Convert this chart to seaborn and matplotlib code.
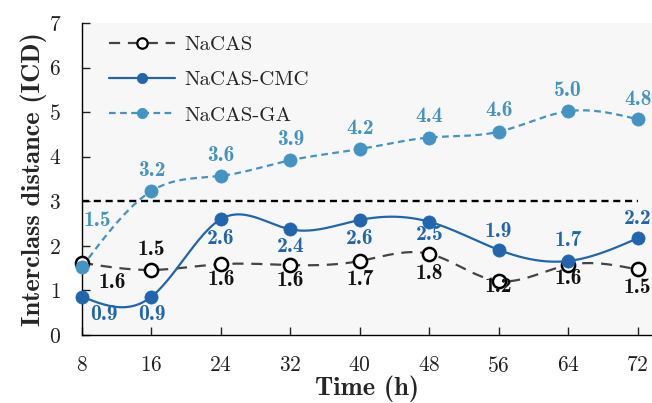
import numpy as np
import pandas as pd
import matplotlib
matplotlib.use("Agg")
import matplotlib.pyplot as plt
from matplotlib.lines import Line2D
import seaborn as sns

# Sampling times (h) and interclass distances for each formulation
hours = [8, 16, 24, 32, 40, 48, 56, 64, 72]
nacas = [1.62, 1.46, 1.59, 1.57, 1.66, 1.82, 1.21, 1.57, 1.47]
nacas_cmc = [0.86, 0.86, 2.60, 2.37, 2.58, 2.54, 1.91, 1.66, 2.17]
nacas_ga = [1.53, 3.23, 3.57, 3.92, 4.17, 4.43, 4.56, 5.02, 4.84]
threshold = 3.0

x_ticks = [8, 16, 24, 32, 40, 48, 56, 64, 72]
y_ticks = [0, 1, 2, 3, 4, 5, 6, 7]

# label placement (dx, dy in points) for each series
nacas_off = [(22, -14), (0, 15), (0, -11), (0, -11), (0, -13), (0, -14), (0, -4), (0, -10), (0, -13)]
cmc_off = [(16, -13), (0, -13), (0, -14), (0, -12), (0, -13), (0, -9), (0, 13), (0, 15), (0, 14)]
ga_off = [(11, 33), (0, 15), (0, 15), (0, 15), (0, 15), (0, 15), (0, 15), (0, 15), (0, 14)]


def natural_spline(x, y, n=400):
    """Natural cubic spline through (x, y), evaluated on a fine grid."""
    x = np.asarray(x, float)
    y = np.asarray(y, float)
    k = len(x)
    h = np.diff(x)
    A = np.zeros((k, k))
    b = np.zeros(k)
    A[0, 0] = A[-1, -1] = 1.0
    for i in range(1, k - 1):
        A[i, i - 1] = h[i - 1]
        A[i, i] = 2 * (h[i - 1] + h[i])
        A[i, i + 1] = h[i]
        b[i] = 6 * ((y[i + 1] - y[i]) / h[i] - (y[i] - y[i - 1]) / h[i - 1])
    M = np.linalg.solve(A, b)
    xs = np.linspace(x[0], x[-1], n)
    idx = np.clip(np.searchsorted(x, xs) - 1, 0, k - 2)
    x0, x1 = x[idx], x[idx + 1]
    hh = x1 - x0
    t0, t1 = x1 - xs, xs - x0
    ys = (M[idx] * t0 ** 3 / (6 * hh) + M[idx + 1] * t1 ** 3 / (6 * hh)
          + (y[idx] / hh - M[idx] * hh / 6) * t0
          + (y[idx + 1] / hh - M[idx + 1] * hh / 6) * t1)
    return xs, ys


sns.set_style("ticks")
plt.rcParams["font.family"] = ["cmr10", "DejaVu Serif"]
plt.rcParams["axes.formatter.use_mathtext"] = True
plt.rcParams["mathtext.fontset"] = "cm"

fig = plt.figure(figsize=(6.52, 4.03), dpi=100)
ax = fig.add_axes([0.1258, 0.1687, 0.8742 + 0.001, 0.7743])
ax.set_facecolor("#f7f7f7")

c_nacas_line = "#444444"
c_cmc = "#2166ac"
c_ga = "#4393c3"
regular = ["cmr10", "DejaVu Serif"]
bold = ["cmb10", "DejaVu Serif"]

series = [
    ("NaCAS", nacas, c_nacas_line, (0, (5, 3.5)), "white", "black", 1.6, nacas_off, "#111111"),
    ("NaCAS-CMC", nacas_cmc, c_cmc, "-", c_cmc, c_cmc, 1.6, cmc_off, c_cmc),
    ("NaCAS-GA", nacas_ga, c_ga, (0, (3, 2)), c_ga, c_ga, 1.6, ga_off, c_ga),
]

ax.hlines(threshold, hours[0], hours[-1], colors="black", linestyles=(0, (3, 2)),
          linewidth=1.7, zorder=2)

handles = []
for z, (name, vals, lc, ls, fc, ec, lw, offs, tc) in enumerate(series):
    xs, ys = natural_spline(hours, vals)
    sns.lineplot(x=xs, y=ys, ax=ax, color=lc, linestyle=ls, linewidth=lw,
                 zorder=3 + 2 * z, estimator=None, sort=False)
    sns.scatterplot(x=hours, y=vals, ax=ax, s=90, color=fc, edgecolor=ec,
                    linewidth=1.8 if name == "NaCAS" else 0.5, zorder=4 + 2 * z,
                    clip_on=False)
    for xv, yv, (dx, dy) in zip(hours, vals, offs):
        ax.annotate(f"{yv:.1f}", (xv, yv), xytext=(dx, dy), textcoords="offset points",
                    ha="center", va="center", fontsize=15.5, color=tc,
                    family=bold, zorder=10)
    handles.append(Line2D([0], [0], color=lc, linestyle=ls, linewidth=lw,
                          marker="o", markersize=7.5, markerfacecolor=fc,
                          markeredgecolor=ec, markeredgewidth=1.6 if name == "NaCAS" else 0.5))

ax.set_xlim(8, 73.73)
ax.set_ylim(0, 7)
ax.set_xticks(x_ticks)
ax.set_yticks(y_ticks)
ax.tick_params(direction="in", length=6, width=1, pad=15, labelsize=15.5, colors="#222222")
for lab in ax.get_xticklabels() + ax.get_yticklabels():
    lab.set_family(regular)

sns.despine(ax=ax)
for s in ("left", "bottom"):
    ax.spines[s].set_linewidth(1.0)
    ax.spines[s].set_color("black")

ax.set_xlabel("Time (h)", fontsize=19, family=bold, labelpad=0)
ax.set_ylabel("Interclass distance (ICD)", fontsize=19, family=bold, labelpad=1)

leg = ax.legend(handles, [s[0] for s in series], loc="upper left", frameon=False,
                fontsize=15, handlelength=3.2, handletextpad=0.45, labelspacing=0.8,
                borderaxespad=0.2, bbox_to_anchor=(0.025, 1.0))
for t in leg.get_texts():
    t.set_family(regular)

leg.set_zorder(20)
fig.savefig("out.png", dpi=100)
